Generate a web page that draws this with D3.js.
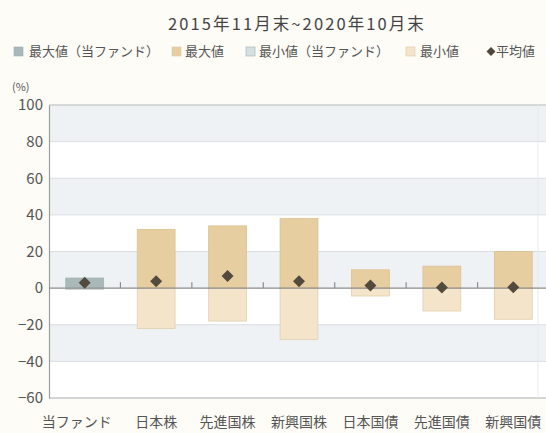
<!DOCTYPE html>
<html><head><meta charset="utf-8">
<script src="https://cdn.jsdelivr.net/npm/d3@7/dist/d3.min.js"></script>
<style>
html,body{margin:0;padding:0;background:#fdfcf7;}
text{font-family:"Noto Sans CJK JP","Noto Sans",sans-serif;}
</style></head>
<body><svg id="c" width="546" height="433"></svg>
<script>
const title = "2015年11月末~2020年10月末";
const categories = ["当ファンド","日本株","先進国株","新興国株","日本国債","先進国債","新興国債"];
const maxValues = [5.5, 32, 34, 38, 10, 12, 20];
const minValues = [-0.8, -22, -18, -28, -4.3, -12.5, -17];
const avgValues = [3, 3.7, 6.6, 3.7, 1.5, 0.3, 0.5];
const yTicks = [100, 80, 60, 40, 20, 0, -20, -40, -60];
const legendLabels = ["最大値（当ファンド）","最大値","最小値（当ファンド）","最小値","平均値"];

const colFundMax = "#a9b8b9", colFundMin = "#d6e0e2", colMax = "#e7cea1", colMin = "#f4e4c9";
const svg = d3.select("#c");
const L = 49, R = 549, T = 105, B = 398;
const y = d3.scaleLinear().domain([-60, 100]).range([B, T]);
const x = d3.scaleBand().domain(categories).range([L, R]).paddingInner(0.47).paddingOuter(0.235);

// title
svg.append("text").attr("x", 297).attr("y", 30).attr("text-anchor", "middle")
  .attr("font-size", 16.5).attr("fill", "#444").attr("letter-spacing", 2.1).text(title);

// legend
const legX = [14, 172, 246, 406, 487];
const legTX = [29, 185, 259, 420, 496];
const legSw = [colFundMax, colMax, colFundMin, colMin, null];
legendLabels.forEach((t, i) => {
  const g = svg.append("g");
  if (legSw[i]) {
    g.append("rect").attr("x", legX[i]).attr("y", 47).attr("width", 9).attr("height", 9)
      .attr("fill", legSw[i]).attr("stroke", i % 2 ? "#dcc8a4" : "#9fb0b2").attr("stroke-width", 0.6);
  } else {
    g.append("path").attr("d", d3.symbol(d3.symbolSquare, 40)()).attr("transform", `translate(${legX[i]+4},51.5) rotate(45)`).attr("fill", "#4f473c");
  }
  g.append("text").attr("x", legTX[i]).attr("y", 56).attr("font-size", 13).attr("fill", "#555").text(t);
});

// plot background bands
svg.append("rect").attr("x", L).attr("y", T).attr("width", 546 - L).attr("height", B - T).attr("fill", "#ffffff");
for (let i = 0; i < yTicks.length - 1; i++) {
  const top = yTicks[i], bot = yTicks[i + 1];
  if ([100, 60, 20, -20].includes(top)) {
    svg.append("rect").attr("x", L).attr("y", y(top)).attr("width", 546 - L).attr("height", y(bot) - y(top)).attr("fill", "#eef2f5");
  }
}
// gridlines
svg.append("g").selectAll("line").data(yTicks.filter(v => v !== 0 && v !== -60 && v !== 100)).join("line")
  .attr("x1", L).attr("x2", 546).attr("y1", d => y(d)).attr("y2", d => y(d))
  .attr("stroke", "#d9dee3").attr("stroke-width", 1);
// frame top & bottom
svg.append("line").attr("x1", L).attr("x2", 546).attr("y1", T).attr("y2", T).attr("stroke", "#b5b9bc").attr("stroke-width", 1.2);
svg.append("line").attr("x1", L).attr("x2", 546).attr("y1", B).attr("y2", B).attr("stroke", "#a8acaf").attr("stroke-width", 1.2);
svg.append("line").attr("x1", 538).attr("x2", 538).attr("y1", T).attr("y2", B).attr("stroke", "#e6e9ec").attr("stroke-width", 1);

// y axis
const yAxis = d3.axisLeft(y).tickValues(yTicks).tickSize(0).tickPadding(6);
const ya = svg.append("g").attr("transform", `translate(${L},0)`).call(yAxis);
ya.select(".domain").attr("stroke", "#9a9ea1").attr("stroke-width", 1.2);
ya.selectAll("text").attr("font-size", 15).attr("fill", "#555").attr("font-family", "'Liberation Sans Narrow','Noto Sans',sans-serif");
svg.append("text").attr("x", 12).attr("y", 91).attr("font-size", 11).attr("fill", "#555").text("(%)");

// bars
const idx = categories.map((c, i) => i);
svg.append("g").selectAll("rect").data(idx).join("rect")
  .attr("x", i => x(categories[i])).attr("width", x.bandwidth())
  .attr("y", i => y(maxValues[i])).attr("height", i => y(0) - y(maxValues[i]))
  .attr("fill", i => i === 0 ? colFundMax : colMax)
  .attr("stroke", i => i === 0 ? "#a0b0b1" : "#dcc092").attr("stroke-width", 0.8);
svg.append("g").selectAll("rect").data(idx).join("rect")
  .attr("x", i => x(categories[i])).attr("width", x.bandwidth())
  .attr("y", y(0)).attr("height", i => y(minValues[i]) - y(0))
  .attr("fill", i => i === 0 ? colFundMin : colMin)
  .attr("stroke", i => i === 0 ? "#c5d0d2" : "#e2cfae").attr("stroke-width", 0.8);

// zero line
svg.append("line").attr("x1", L).attr("x2", 546).attr("y1", y(0)).attr("y2", y(0)).attr("stroke", "#8c8c8a").attr("stroke-width", 1.4);

// category separator ticks
const seps = categories.slice(1);
svg.append("g").selectAll("line").data(seps).join("line")
  .attr("x1", d => x(d) - x.step() * x.paddingInner() / 2).attr("x2", d => x(d) - x.step() * x.paddingInner() / 2)
  .attr("y1", y(0)).attr("y2", y(0) - 6).attr("stroke", "#8c8c8a").attr("stroke-width", 1.2);

// x labels
const xAxis = d3.axisBottom(x).tickSize(0).tickPadding(0);
const xa = svg.append("g").attr("transform", `translate(0,${B + 24})`).call(xAxis);
xa.select(".domain").remove();
xa.selectAll("text").attr("font-size", 14).attr("fill", "#555").attr("dy", "0.35em")
  .attr("font-family", "'Noto Sans CJK JP',sans-serif");
xa.selectAll(".tick").filter(d => d === "当ファンド").select("text").attr("dx", -8);

// averages
svg.append("g").selectAll("path").data(idx).join("path")
  .attr("d", d3.symbol(d3.symbolSquare, 72)())
  .attr("transform", i => `translate(${x(categories[i]) + x.bandwidth() / 2},${y(avgValues[i])}) rotate(45)`)
  .attr("fill", "#534a3e");
</script></body></html>
